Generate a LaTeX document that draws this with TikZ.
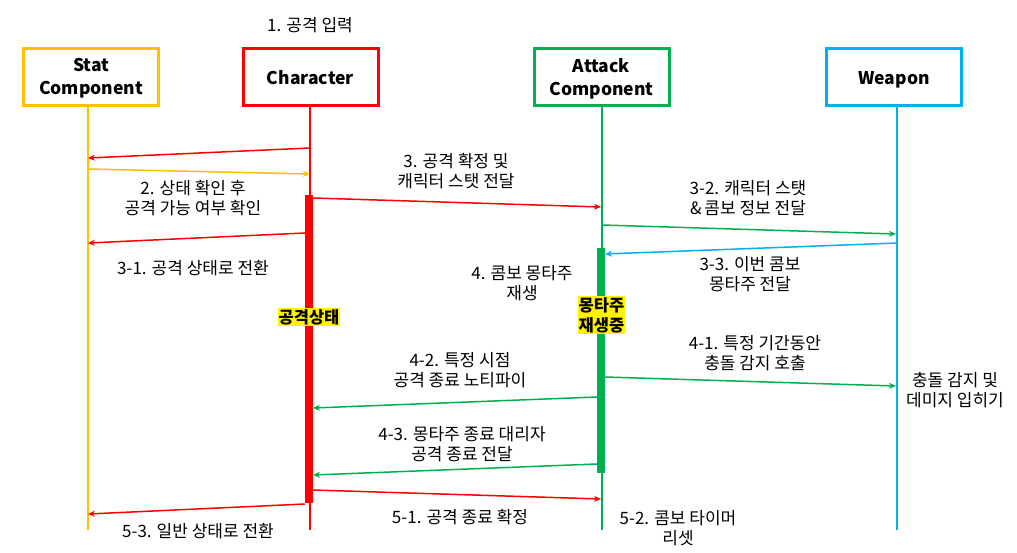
\documentclass[tikz,border=0pt]{standalone}
\usepackage{fontspec}
\setmainfont{Noto Sans CJK KR}
\usetikzlibrary{arrows.meta}
\definecolor{cR}{HTML}{FF0000}
\definecolor{cY}{HTML}{FFC000}
\definecolor{cG}{HTML}{00B050}
\definecolor{cB}{HTML}{00B0F0}
\tikzset{
  obj/.style={draw=#1, line width=3pt, minimum width=135pt, minimum height=57pt, align=center,
    font=\fontsize{17.5}{23}\selectfont\bfseries, inner sep=0pt},
  objtxt/.style={align=center, font=\fontsize{17.5}{23}\selectfont\bfseries, inner sep=0pt},
  life/.style={draw=#1, line width=1.6pt},
  msg/.style={draw=#1, line width=1.5pt, -{Stealth[length=7pt,width=6pt]}},
  lbl/.style={align=center, font=\fontsize{17}{20}\selectfont, inner sep=0pt},
  hl/.style={fill=yellow, align=center, font=\fontsize{16.5}{20}\selectfont\bfseries, inner sep=1pt},
  actbar/.style={fill=#1, draw=none, inner sep=0pt, minimum width=8pt},
}
\begin{document}
\begin{tikzpicture}[x=1pt,y=-1pt]
\useasboundingbox (0,0) rectangle (1017,553);
\fill[white] (0,0) rectangle (1017,553);
% objects
\node[obj=cY] (stat) at (91,77) {};
\node[obj=cR] (char) at (310.5,77) {};
\node[obj=cG] (atk) at (601.5,77) {};
\node[obj=cB] (wpn) at (894,77) {};
\node[objtxt] (statT1) at (91,78.5) {Stat\\Component};
\node[objtxt, anchor=base] (charT1) at (310.5,84.5) {Character};
\node[objtxt] (atkT1) at (601.5,78.5) {Attack\\Component};
\node[objtxt, anchor=base] (wpnT1) at (894,84.5) {Weapon};
% lifelines
\coordinate (statT) at (88,107); \coordinate (statB) at (88,530);
\coordinate (charT) at (310,107); \coordinate (charB) at (310,530);
\coordinate (atkT) at (602,107); \coordinate (atkB) at (602,530);
\coordinate (wpnT) at (897,107); \coordinate (wpnB) at (897,530);
\draw[life=cY] (statT) -- (statB);
\draw[life=cR] (charT) -- (charB);
\draw[life=cG] (atkT) -- (atkB);
\draw[life=cB] (wpnT) -- (wpnB);
% activation bars
\node[actbar=cR, minimum height=308pt] (cbar) at (309,349) {};
\node[actbar=cG, minimum height=225pt] (abar) at (601,360.5) {};
% message end points
\coordinate (m1a) at (310,148); \coordinate (m1b) at (88,158);
\coordinate (m2a) at (88,169);  \coordinate (m2b) at (310,174);
\coordinate (m3a) at (313,198); \coordinate (m3b) at (601,207);
\coordinate (m31a) at (305,233); \coordinate (m31b) at (88,243);
\coordinate (m32a) at (602,225); \coordinate (m32b) at (896,234);
\coordinate (m33a) at (897,243); \coordinate (m33b) at (605,254);
\coordinate (m41a) at (605,377); \coordinate (m41b) at (896,386);
\coordinate (m42a) at (597,397); \coordinate (m42b) at (313,408);
\coordinate (m43a) at (597,464); \coordinate (m43b) at (313,475);
\coordinate (m51a) at (313,490); \coordinate (m51b) at (601,499);
\coordinate (m53a) at (305,504); \coordinate (m53b) at (88,514);
% messages
\draw[msg=cR] (m1a) -- (m1b);
\draw[msg=cY] (m2a) -- (m2b);
\draw[msg=cR] (m3a) -- (m3b);
\draw[msg=cR] (m31a) -- (m31b);
\draw[msg=cG] (m32a) -- (m32b);
\draw[msg=cB] (m33a) -- (m33b);
\draw[msg=cG] (m41a) -- (m41b);
\draw[msg=cG] (m42a) -- (m42b);
\draw[msg=cG] (m43a) -- (m43b);
\draw[msg=cR] (m51a) -- (m51b);
\draw[msg=cR] (m53a) -- (m53b);
% labels
\node[lbl] (l1) at (310,25) {1. 공격 입력};
\node[lbl] (l2) at (193,198) {2. 상태 확인 후\\공격 가능 여부 확인};
\node[lbl] (l3) at (456,171) {3. 공격 확정 및\\캐릭터 스탯 전달};
\node[lbl] (l31) at (193,268) {3-1. 공격 상태로 전환};
\node[lbl] (l32) at (748,198) {3-2. 캐릭터 스탯\\\&\,콤보 정보 전달};
\node[lbl] (l33) at (750,274) {3-3. 이번 콤보\\몽타주 전달};
\node[lbl] (l4) at (522,283) {4. 콤보 몽타주\\재생};
\node[hl] (h1) at (309,317) {공격상태};
\node[hl] (h2) at (601.5,315) {몽타주\\재생중};
\node[lbl] (l41) at (755,353) {4-1. 특정 기간동안\\충돌 감지 호출};
\node[lbl] (lw) at (955,390) {충돌 감지 및\\데미지 입히기};
\node[lbl] (l42) at (460,370) {4-2. 특정 시점\\공격 종료 노티파이};
\node[lbl] (l43) at (462,444) {4-3. 몽타주 종료 대리자\\공격 종료 전달};
\node[lbl] (l51) at (460,517) {5-1. 공격 종료 확정};
\node[lbl] (l52) at (678,528) {5-2. 콤보 타이머\\리셋};
\node[lbl] (l53) at (198,531) {5-3. 일반 상태로 전환};
\end{tikzpicture}
\end{document}
